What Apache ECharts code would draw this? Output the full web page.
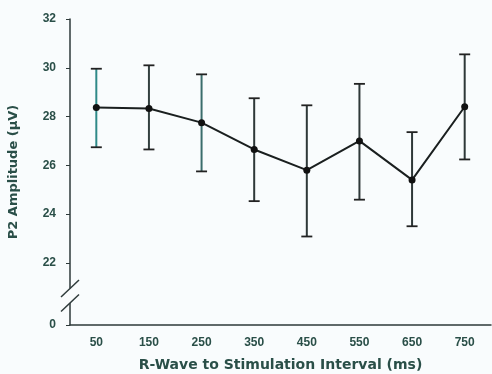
<!DOCTYPE html>
<html>
<head>
<meta charset="utf-8">
<script src="https://cdn.jsdelivr.net/npm/echarts@6/dist/echarts.min.js"></script>
<style>
  html, body { margin: 0; padding: 0; background: #f9fcfd; }
  #chart { width: 492px; height: 374px; }
</style>
</head>
<body>
<div id="chart"></div>
<script>
// R-wave to stimulation interval (ms)
const intervals = ['50', '150', '250', '350', '450', '550', '650', '750'];
// mean P2 amplitude (µV) with error bar ends
const meanAmp = [28.37, 28.33, 27.75, 26.65, 25.8, 27.0, 25.4, 28.4];
const upperAmp = [29.96, 30.1, 29.73, 28.75, 28.46, 29.34, 27.36, 30.55];
const lowerAmp = [26.74, 26.65, 25.75, 24.53, 23.08, 24.59, 23.5, 26.24];
// broken y axis: bottom value stands for 0
const yTickValues = [19.45, 22, 24, 26, 28, 30, 32];
const yTickLabels = ['0', '22', '24', '26', '28', '30', '32'];

const textColor = '#2a4f48';
const barColors = ['#2f8a88', '#33403f', '#3b6d6c', '#2e3838', '#2e3838', '#2e3838', '#2e3838', '#2e3838'];
const gridLeft = 70;

const chart = echarts.init(document.getElementById('chart'));

const option = {
  backgroundColor: '#f9fcfd',
  animation: false,
  grid: { left: gridLeft, right: 1, top: 19, bottom: 49, outerBoundsMode: 'none', containLabel: false },
  xAxis: {
    type: 'category',
    data: intervals,
    name: 'R-Wave to Stimulation Interval (ms)',
    nameLocation: 'middle',
    nameGap: 33,
    nameTextStyle: { color: textColor, fontSize: 14, fontWeight: 'bold', fontFamily: 'DejaVu Sans' },
    axisLine: { lineStyle: { color: '#2e3a3a', width: 1.5 } },
    axisTick: { alignWithLabel: true, length: 3, lineStyle: { color: '#2e3a3a' } },
    axisLabel: { color: textColor, fontSize: 12, fontWeight: 'bold', fontFamily: 'Liberation Sans', margin: 12 }
  },
  yAxis: {
    type: 'value',
    min: yTickValues[0],
    max: 32,
    name: 'P2 Amplitude (µV)',
    nameLocation: 'middle',
    nameGap: 50,
    nameTextStyle: { color: textColor, fontSize: 13, fontWeight: 'bold', fontFamily: 'DejaVu Sans' },
    axisLine: { show: true, lineStyle: { color: '#2e3a3a', width: 1.5 } },
    axisTick: { show: true, length: 4, customValues: yTickValues, lineStyle: { color: '#2e3a3a' } },
    axisLabel: {
      color: textColor, fontSize: 12, fontWeight: 'bold', fontFamily: 'Liberation Sans', margin: 14,
      customValues: yTickValues,
      formatter: (v) => yTickLabels[yTickValues.indexOf(v)]
    },
    splitLine: { show: false }
  },
  series: [
    {
      type: 'custom',
      data: intervals.map((c, i) => [i, lowerAmp[i], upperAmp[i]]),
      z: 1,
      renderItem: (params, api) => {
        const i = api.value(0);
        const lo = api.coord([i, api.value(1)]);
        const hi = api.coord([i, api.value(2)]);
        const hw = 5.5;
        return {
          type: 'group',
          children: [
            { type: 'line', shape: { x1: hi[0], y1: hi[1], x2: lo[0], y2: lo[1] }, style: { stroke: barColors[i], lineWidth: 2 } },
            { type: 'line', shape: { x1: hi[0] - hw, y1: hi[1], x2: hi[0] + hw, y2: hi[1] }, style: { stroke: '#222', lineWidth: 1.8 } },
            { type: 'line', shape: { x1: lo[0] - hw, y1: lo[1], x2: lo[0] + hw, y2: lo[1] }, style: { stroke: '#222', lineWidth: 1.8 } }
          ]
        };
      }
    },
    {
      type: 'line',
      data: meanAmp,
      z: 2,
      symbol: 'circle',
      symbolSize: 7,
      lineStyle: { color: '#1a1f1f', width: 2 },
      itemStyle: { color: '#111' }
    }
  ]
};

chart.setOption(option);

// axis break marks between 0 and 22
const yUp = chart.convertToPixel({ yAxisIndex: 0 }, 20.95);
const yDn = chart.convertToPixel({ yAxisIndex: 0 }, 20.35);
const mark = (yc) => ({
  type: 'line',
  shape: { x1: gridLeft - 9, y1: yc + 8.5, x2: gridLeft + 9, y2: yc - 8.5 },
  style: { stroke: '#2e3a3a', lineWidth: 1.5 },
  z: 100
});
chart.setOption({
  graphic: [
    { type: 'rect', shape: { x: gridLeft - 3, y: yUp, width: 6, height: yDn - yUp }, style: { fill: '#f9fcfd' }, z: 99 },
    mark(yUp),
    mark(yDn)
  ]
});
</script>
</body>
</html>
